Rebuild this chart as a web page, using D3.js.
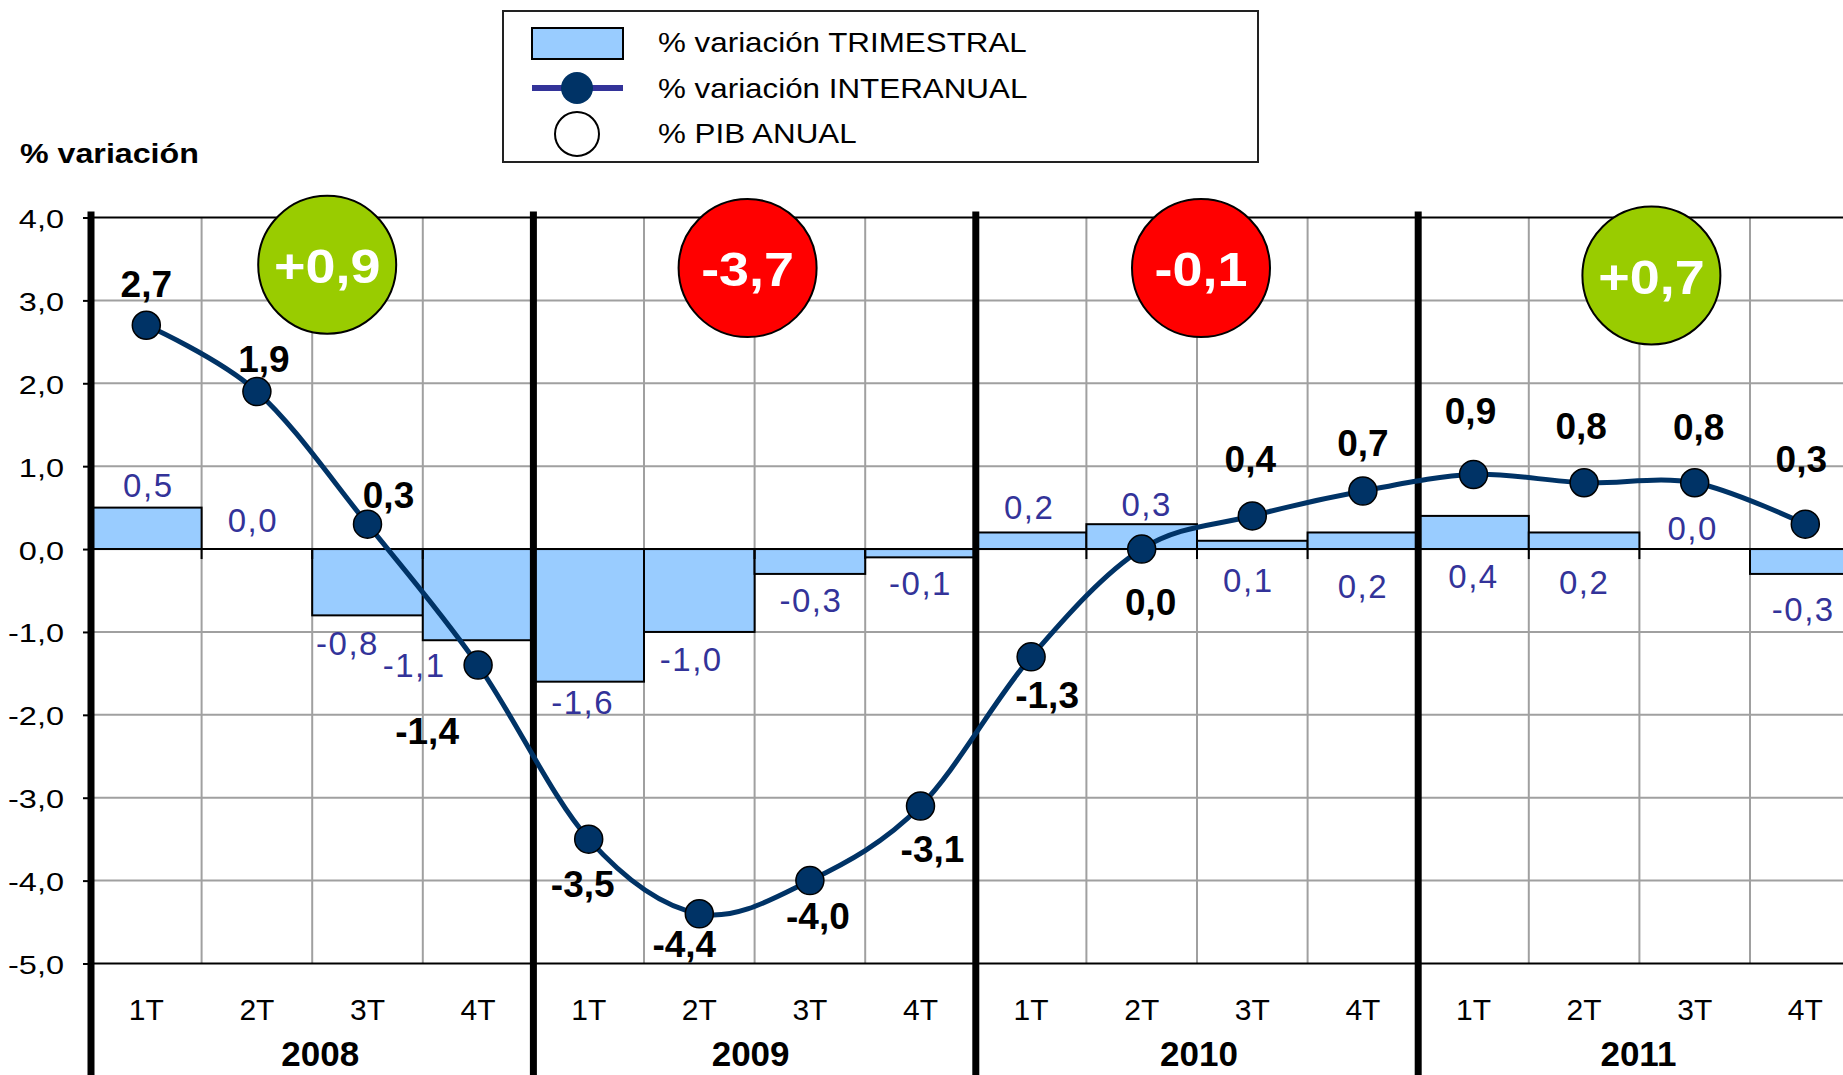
<!DOCTYPE html>
<html>
<head>
<meta charset="utf-8">
<script src="https://cdn.jsdelivr.net/npm/d3@7"></script>
<style>
	body { margin: 0; background: #fff; }
	svg { display: block; font-family: "Liberation Sans", Arial, sans-serif; }
</style>
</head>
<body>
<script>
// data
let quarters = ["1T", "2T", "3T", "4T"];
let years = ["2008", "2009", "2010", "2011"];
let trimestral = [0.5, 0.0, -0.8, -1.1, -1.6, -1.0, -0.3, -0.1, 0.2, 0.3, 0.1, 0.2, 0.4, 0.2, 0.0, -0.3];
let interanual = [2.7, 1.9, 0.3, -1.4, -3.5, -4.4, -4.0, -3.1, -1.3, 0.0, 0.4, 0.7, 0.9, 0.8, 0.8, 0.3];
let pibAnual = [0.9, -3.7, -0.1, 0.7];
let yTicks = [4, 3, 2, 1, 0, -1, -2, -3, -4, -5];

// label placement, hand tuned like the original (pixels)
let barLabelSide = ["up", "up", "down", "down", "down", "down", "down", "down",
	"up", "up", "down", "down", "down", "down", "up", "down"];
let barLabelDx = [2, -4, -20, -64, -6, -8, 1, 0, -2, 5, -4, 0, 0, 0, -2, -2];
let barLabelDy = [-23, -29, 28, 25, 20, 27, 26, 26, -25, -20, 31, 37, 27, 33, -21, 35];
let lineLabelDx = [0, 7, 21, -51, -6, -15, 8, 12, 16, 9, -2, 0, -3, -3, 4, -4];
let lineLabelDy = [-41, -33, -29, 66, 45, 30, 35, 43, 38, 53, -57, -48, -63, -57, -56, -65];
let bubbleDx = [15, -7, 4, 12];
let bubbleLevel = [3.43, 3.39, 3.39, 3.3];
let yearLabelDx = [8, -4, 2, -1];

let width = 1843, height = 1075;
let plotLeft = 91, band = 110.6;
let plotTop = 217.5, plotBottom = 963.5;

let locale = d3.formatLocale({decimal: ",", thousands: ".", grouping: [3], currency: ["", ""], minus: "-"});
let fmt = locale.format(".1f");
let fmtSigned = locale.format("+.1f");

let idx = d3.range(trimestral.length);
let xScale = d3.scaleBand().domain(idx).range([plotLeft, plotLeft + band * idx.length]).padding(0);
let yearScale = d3.scaleBand().domain(years).range([plotLeft, plotLeft + band * idx.length]).padding(0);
let yScale = d3.scaleLinear().domain([-5, 4]).range([plotBottom, plotTop]);

let svg = d3.select("body").append("svg")
	.attr("width", width)
	.attr("height", height);

// helper for text that the original draws a bit wider than the font
function wideText(g, x, y, sx, str) {
	return g.append("text")
		.attr("transform", "translate(" + x + "," + y + ") scale(" + sx + ",1)")
		.text(str);
}

// gray gridlines
let grid = svg.append("g");
grid.selectAll(".hgrid")
		.data(yTicks.filter(function(d) { return d != 4 && d != 0 && d != -5; }))
	.enter().append("line")
		.attr("x1", plotLeft).attr("x2", width)
		.attr("y1", function(d) { return yScale(d); })
		.attr("y2", function(d) { return yScale(d); })
		.attr("stroke", "#a0a0a0").attr("stroke-width", 2);
grid.selectAll(".vgrid")
		.data(idx.filter(function(i) { return i % 4 != 0; }))
	.enter().append("line")
		.attr("x1", function(i) { return xScale(i); })
		.attr("x2", function(i) { return xScale(i); })
		.attr("y1", plotTop).attr("y2", plotBottom)
		.attr("stroke", "#a0a0a0").attr("stroke-width", 2);

// quarterly bars
svg.selectAll(".bar")
		.data(trimestral)
	.enter().append("rect")
		.attr("x", function(d, i) { return xScale(i); })
		.attr("width", xScale.bandwidth())
		.attr("y", function(d) { return yScale(Math.max(d, 0)); })
		.attr("height", function(d) { return Math.abs(yScale(d) - yScale(0)); })
		.attr("fill", "#99ccff")
		.attr("stroke", "#000")
		.attr("stroke-width", 2);

// black lines: top, zero, bottom
svg.selectAll(".hblack")
		.data([4, 0, -5])
	.enter().append("line")
		.attr("x1", plotLeft).attr("x2", width)
		.attr("y1", function(d) { return yScale(d); })
		.attr("y2", function(d) { return yScale(d); })
		.attr("stroke", "#000").attr("stroke-width", 2);

// small category ticks under the zero line
svg.selectAll(".ctick")
		.data(idx.filter(function(i) { return i % 4 != 0; }))
	.enter().append("line")
		.attr("x1", function(i) { return xScale(i); })
		.attr("x2", function(i) { return xScale(i); })
		.attr("y1", yScale(0)).attr("y2", yScale(0) + 10)
		.attr("stroke", "#000").attr("stroke-width", 2);

// thick year separators
svg.selectAll(".yearline")
		.data(years)
	.enter().append("line")
		.attr("x1", function(d) { return yearScale(d); })
		.attr("x2", function(d) { return yearScale(d); })
		.attr("y1", plotTop - 6).attr("y2", height)
		.attr("stroke", "#000").attr("stroke-width", 7);

// y axis
let yAxis = svg.append("g")
	.attr("transform", "translate(" + plotLeft + ",0)")
	.call(d3.axisLeft(yScale).tickValues(yTicks).tickSize(8).tickFormat(fmt));
yAxis.select(".domain").remove();
yAxis.selectAll(".tick line").attr("stroke", "#000").attr("stroke-width", 2);
yAxis.selectAll(".tick text")
	.attr("x", -27 / 1.3)
	.attr("dy", "0.4em")
	.attr("transform", "scale(1.3,1)")
	.attr("font-size", 25)
	.attr("fill", "#000");

// quarter labels and year labels
let xAxis = svg.append("g")
	.attr("transform", "translate(0," + plotBottom + ")")
	.call(d3.axisBottom(xScale).tickSize(0).tickPadding(35)
		.tickFormat(function(i) { return quarters[i % 4]; }));
xAxis.select(".domain").remove();
xAxis.selectAll("text").attr("font-size", 30).attr("fill", "#000");

let yearAxis = svg.append("g")
	.attr("transform", "translate(0," + plotBottom + ")")
	.call(d3.axisBottom(yearScale).tickSize(0).tickPadding(78));
yearAxis.select(".domain").remove();
yearAxis.selectAll("text")
	.attr("x", function(d, i) { return yearLabelDx[i]; })
	.attr("font-size", 35)
	.attr("font-weight", "bold")
	.attr("fill", "#000");

// bar value labels
svg.selectAll(".barlabel")
		.data(trimestral)
	.enter().append("text")
		.attr("x", function(d, i) { return xScale(i) + xScale.bandwidth() / 2 + barLabelDx[i]; })
		.attr("y", function(d, i) {
			let anchor = barLabelSide[i] == "up" ? yScale(Math.max(d, 0)) : yScale(Math.min(d, 0));
			return anchor + barLabelDy[i] + 12;
		})
		.attr("text-anchor", "middle")
		.attr("font-size", 33)
		.attr("letter-spacing", 1.5)
		.attr("fill", "#333399")
		.text(function(d) { return fmt(d); });

// interanual line
let smoothLine = d3.line()
	.curve(d3.curveCardinal.tension(0))
	.x(function(d, i) { return xScale(i) + xScale.bandwidth() / 2; })
	.y(function(d) { return yScale(d); });

svg.append("path")
	.datum(interanual)
	.attr("d", smoothLine)
	.attr("fill", "none")
	.attr("stroke", "#003366")
	.attr("stroke-width", 5);

svg.selectAll(".dot")
		.data(interanual)
	.enter().append("circle")
		.attr("cx", function(d, i) { return xScale(i) + xScale.bandwidth() / 2; })
		.attr("cy", function(d) { return yScale(d); })
		.attr("r", 14)
		.attr("fill", "#003366")
		.attr("stroke", "#000")
		.attr("stroke-width", 1.5);

svg.selectAll(".linelabel")
		.data(interanual)
	.enter().append("text")
		.attr("x", function(d, i) { return xScale(i) + xScale.bandwidth() / 2 + lineLabelDx[i]; })
		.attr("y", function(d, i) { return yScale(d) + lineLabelDy[i] + 13; })
		.attr("text-anchor", "middle")
		.attr("font-size", 37)
		.attr("font-weight", "bold")
		.attr("fill", "#000")
		.text(function(d) { return fmt(d); });

// annual GDP bubbles
let bubbles = svg.selectAll(".bubble")
		.data(pibAnual)
	.enter().append("g")
		.attr("transform", function(d, i) {
			let cx = yearScale(years[i]) + yearScale.bandwidth() / 2 + bubbleDx[i];
			return "translate(" + cx + "," + yScale(bubbleLevel[i]) + ")";
		});
bubbles.append("circle")
	.attr("r", 69)
	.attr("fill", function(d) { return d > 0 ? "#99cc00" : "#ff0000"; })
	.attr("stroke", "#000")
	.attr("stroke-width", 2);
bubbles.append("text")
	.attr("y", 18)
	.attr("transform", "scale(1.1,1)")
	.attr("text-anchor", "middle")
	.attr("font-size", 49)
	.attr("font-weight", "bold")
	.attr("fill", "#fff")
	.text(function(d) { return fmtSigned(d); });

// y title
wideText(svg, 20, 163, 1.15, "% variación")
	.attr("font-size", 28)
	.attr("font-weight", "bold");

// legend
let legend = svg.append("g");
legend.append("rect")
	.attr("x", 503).attr("y", 11).attr("width", 755).attr("height", 151)
	.attr("fill", "#fff").attr("stroke", "#222").attr("stroke-width", 2);
legend.append("rect")
	.attr("x", 532).attr("y", 28).attr("width", 91).attr("height", 31)
	.attr("fill", "#99ccff").attr("stroke", "#000").attr("stroke-width", 2);
legend.append("line")
	.attr("x1", 532).attr("x2", 623).attr("y1", 88).attr("y2", 88)
	.attr("stroke", "#333399").attr("stroke-width", 6);
legend.append("circle")
	.attr("cx", 577).attr("cy", 88).attr("r", 16).attr("fill", "#003366");
legend.append("circle")
	.attr("cx", 577).attr("cy", 134).attr("r", 22)
	.attr("fill", "#fff").attr("stroke", "#000").attr("stroke-width", 2);

let legendItems = ["% variación TRIMESTRAL", "% variación INTERANUAL", "% PIB ANUAL"];
let legendY = [52, 98, 143];
legendItems.forEach(function(t, i) {
	wideText(legend, 658, legendY[i], 1.12, t).attr("font-size", 28).attr("fill", "#000");
});
</script>
</body>
</html>
